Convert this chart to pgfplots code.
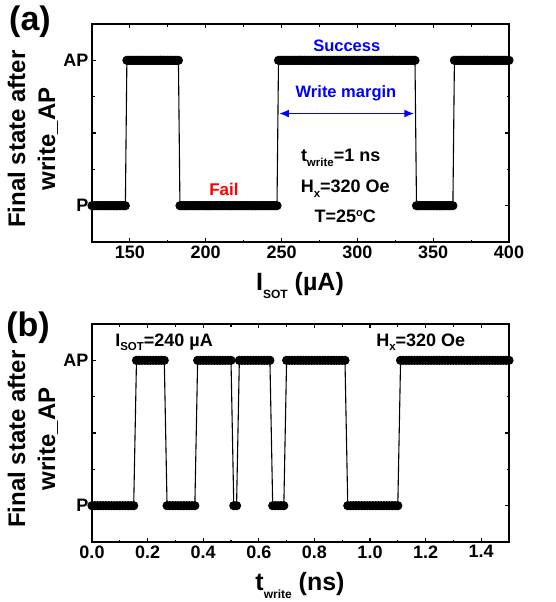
\documentclass[border=0pt]{standalone}
\usepackage{fontspec}
\setmainfont{Liberation Sans}
\usepackage{pgfplots}
\pgfplotsset{compat=1.18}
\usetikzlibrary{arrows.meta}
\definecolor{pureblue}{RGB}{0,0,255}
\definecolor{purered}{RGB}{255,0,0}
\newcommand{\sub}[1]{\raisebox{-4.5pt}{\fontsize{11.5}{11.5}\selectfont #1}}
\pgfplotsset{
  stateaxis/.style={
    scale only axis, width=417pt, height=218pt, anchor=south west,
    ymin=-0.25, ymax=1.25, ytick={0,0.5,1}, yticklabels={P,,AP},
    minor ytick={0.25,0.75},
    axis line style={line width=1.6pt},
    tick style={line width=1.1pt,black},
    major tick length=4pt, minor tick length=2.5pt,
    tick align=inside,
    /pgf/number format/assume math mode=true,
    tick label style={font=\fontsize{18}{18}\selectfont\bfseries},
  },
  stateplot/.style={black, line width=1.1pt, mark=*, mark size=4pt, mark options={solid}}
}
\begin{document}
\begin{tikzpicture}
\path[use as bounding box] (0pt,0pt) rectangle (556pt,-602pt);
% ---------------- panel (a)
\begin{axis}[stateaxis, at={(92pt,-242pt)},
  xmin=125, xmax=400, xtick={150,200,...,400}, minor x tick num=1]
\addplot[stateplot] coordinates {
(125,0)(126,0)(127,0)(128,0)(129,0)(130,0)(131,0)(132,0)(133,0)(134,0)
(135,0)(136,0)(137,0)(138,0)(139,0)(140,0)(141,0)(142,0)(143,0)(144,0)
(145,0)(146,0)(147,0)
(148,1)(149,1)(150,1)(151,1)(152,1)(153,1)(154,1)(155,1)(156,1)(157,1)
(158,1)(159,1)(160,1)(161,1)(162,1)(163,1)(164,1)(165,1)(166,1)(167,1)
(168,1)(169,1)(170,1)(171,1)(172,1)(173,1)(174,1)(175,1)(176,1)(177,1)
(178,1)(179,1)(180,1)(181,1)(182,1)
(183,0)(184,0)(185,0)(186,0)(187,0)(188,0)(189,0)(190,0)(191,0)(192,0)
(193,0)(194,0)(195,0)(196,0)(197,0)(198,0)(199,0)(200,0)(201,0)(202,0)
(203,0)(204,0)(205,0)(206,0)(207,0)(208,0)(209,0)(210,0)(211,0)(212,0)
(213,0)(214,0)(215,0)(216,0)(217,0)(218,0)(219,0)(220,0)(221,0)(222,0)
(223,0)(224,0)(225,0)(226,0)(227,0)(228,0)(229,0)(230,0)(231,0)(232,0)
(233,0)(234,0)(235,0)(236,0)(237,0)(238,0)(239,0)(240,0)(241,0)(242,0)
(243,0)(244,0)(245,0)(246,0)(247,0)
(248,1)(249,1)(250,1)(251,1)(252,1)(253,1)(254,1)(255,1)(256,1)(257,1)
(258,1)(259,1)(260,1)(261,1)(262,1)(263,1)(264,1)(265,1)(266,1)(267,1)
(268,1)(269,1)(270,1)(271,1)(272,1)(273,1)(274,1)(275,1)(276,1)(277,1)
(278,1)(279,1)(280,1)(281,1)(282,1)(283,1)(284,1)(285,1)(286,1)(287,1)
(288,1)(289,1)(290,1)(291,1)(292,1)(293,1)(294,1)(295,1)(296,1)(297,1)
(298,1)(299,1)(300,1)(301,1)(302,1)(303,1)(304,1)(305,1)(306,1)(307,1)
(308,1)(309,1)(310,1)(311,1)(312,1)(313,1)(314,1)(315,1)(316,1)(317,1)
(318,1)(319,1)(320,1)(321,1)(322,1)(323,1)(324,1)(325,1)(326,1)(327,1)
(328,1)(329,1)(330,1)(331,1)(332,1)(333,1)(334,1)(335,1)(336,1)(337,1)
(338,1)
(339,0)(340,0)(341,0)(342,0)(343,0)(344,0)(345,0)(346,0)(347,0)(348,0)
(349,0)(350,0)(351,0)(352,0)(353,0)(354,0)(355,0)(356,0)(357,0)(358,0)
(359,0)(360,0)(361,0)(362,0)(363,0)
(364,1)(365,1)(366,1)(367,1)(368,1)(369,1)(370,1)(371,1)(372,1)(373,1)
(374,1)(375,1)(376,1)(377,1)(378,1)(379,1)(380,1)(381,1)(382,1)(383,1)
(384,1)(385,1)(386,1)(387,1)(388,1)(389,1)(390,1)(391,1)(392,1)(393,1)
(394,1)(395,1)(396,1)(397,1)(398,1)(399,1)(400,1)
};
\node[font=\fontsize{16.5}{16.5}\selectfont\bfseries, text=pureblue] at (axis cs:293,1.10) {Success};
\node[font=\fontsize{16.5}{16.5}\selectfont\bfseries, text=pureblue] at (axis cs:292.5,0.77) {Write margin};
\draw[pureblue, line width=1.8pt, {Latex[length=10pt,width=8pt]}-{Latex[length=10pt,width=8pt]}] (axis cs:248.3,0.634) -- (axis cs:337.6,0.634);
\node[font=\fontsize{17}{17}\selectfont\bfseries, text=purered] at (axis cs:212,0.114) {Fail};
\node[font=\fontsize{18}{18}\selectfont\bfseries, anchor=base] at (axis cs:289,0.303) {t\sub{write}=1 ns};
\node[font=\fontsize{18}{18}\selectfont\bfseries, anchor=base] at (axis cs:292,0.09) {H\sub{x}=320 Oe};
\node[font=\fontsize{18}{18}\selectfont\bfseries, anchor=base] at (axis cs:292,-0.117) {T=25\raisebox{6.5pt}{\fontsize{11}{11}\selectfont o}C};
\end{axis}
% ---------------- panel (b)
\begin{axis}[stateaxis, at={(92pt,-542pt)},
  xmin=0, xmax=1.5, xtick={0,0.2,...,1.4}, minor x tick num=1,
  xticklabel style={/pgf/number format/.cd, fixed, fixed zerofill, precision=1}]
\addplot[stateplot] coordinates {
(0.00,0)(0.01,0)(0.02,0)(0.03,0)(0.04,0)(0.05,0)(0.06,0)(0.07,0)(0.08,0)(0.09,0)
(0.10,0)(0.11,0)(0.12,0)(0.13,0)(0.14,0)(0.15,0)
(0.16,1)(0.17,1)(0.18,1)(0.19,1)(0.20,1)(0.21,1)(0.22,1)(0.23,1)(0.24,1)(0.25,1)(0.26,1)
(0.27,0)(0.28,0)(0.29,0)(0.30,0)(0.31,0)(0.32,0)(0.33,0)(0.34,0)(0.35,0)(0.36,0)(0.37,0)
(0.38,1)(0.39,1)(0.40,1)(0.41,1)(0.42,1)(0.43,1)(0.44,1)(0.45,1)(0.46,1)(0.47,1)
(0.48,1)(0.49,1)(0.50,1)
(0.51,0)(0.52,0)
(0.53,1)(0.54,1)(0.55,1)(0.56,1)(0.57,1)(0.58,1)(0.59,1)(0.60,1)(0.61,1)(0.62,1)
(0.63,1)(0.64,1)
(0.65,0)(0.66,0)(0.67,0)(0.68,0)(0.69,0)
(0.70,1)(0.71,1)(0.72,1)(0.73,1)(0.74,1)(0.75,1)(0.76,1)(0.77,1)(0.78,1)(0.79,1)
(0.80,1)(0.81,1)(0.82,1)(0.83,1)(0.84,1)(0.85,1)(0.86,1)(0.87,1)(0.88,1)(0.89,1)
(0.90,1)(0.91,1)
(0.92,0)(0.93,0)(0.94,0)(0.95,0)(0.96,0)(0.97,0)(0.98,0)(0.99,0)(1.00,0)(1.01,0)
(1.02,0)(1.03,0)(1.04,0)(1.05,0)(1.06,0)(1.07,0)(1.08,0)(1.09,0)(1.10,0)
(1.11,1)(1.12,1)(1.13,1)(1.14,1)(1.15,1)(1.16,1)(1.17,1)(1.18,1)(1.19,1)(1.20,1)
(1.21,1)(1.22,1)(1.23,1)(1.24,1)(1.25,1)(1.26,1)(1.27,1)(1.28,1)(1.29,1)(1.30,1)
(1.31,1)(1.32,1)(1.33,1)(1.34,1)(1.35,1)(1.36,1)(1.37,1)(1.38,1)(1.39,1)(1.40,1)
(1.41,1)(1.42,1)(1.43,1)(1.44,1)(1.45,1)(1.46,1)(1.47,1)(1.48,1)(1.49,1)(1.50,1)
};
\node[font=\fontsize{18}{18}\selectfont\bfseries, anchor=base west] at (axis cs:0.071,1.098) {I\sub{SOT}=240 µA};
\node[font=\fontsize{18}{18}\selectfont\bfseries, anchor=base west] at (axis cs:1.01,1.098) {H\sub{x}=320 Oe};
\end{axis}
% ---------------- labels
\node[font=\fontsize{34}{34}\selectfont\bfseries] at (30pt,-22pt) {(a)};
\node[font=\fontsize{34}{34}\selectfont\bfseries] at (28pt,-328pt) {(b)};
\node[font=\fontsize{24}{30}\selectfont\bfseries, rotate=90, align=center] at (33pt,-139pt) {Final state after\\write\_AP};
\node[font=\fontsize{24}{30}\selectfont\bfseries, rotate=90, align=center] at (33pt,-439pt) {Final state after\\write\_AP};
\node[font=\fontsize{25}{25}\selectfont\bfseries, anchor=base] at (300pt,-290pt) {I\raisebox{-8pt}{\fontsize{12}{12}\selectfont SOT} (µA)};
\node[font=\fontsize{25}{25}\selectfont\bfseries, anchor=base] at (300pt,-590pt) {t\raisebox{-8pt}{\fontsize{12}{12}\selectfont write} (ns)};
\end{tikzpicture}
\end{document}
